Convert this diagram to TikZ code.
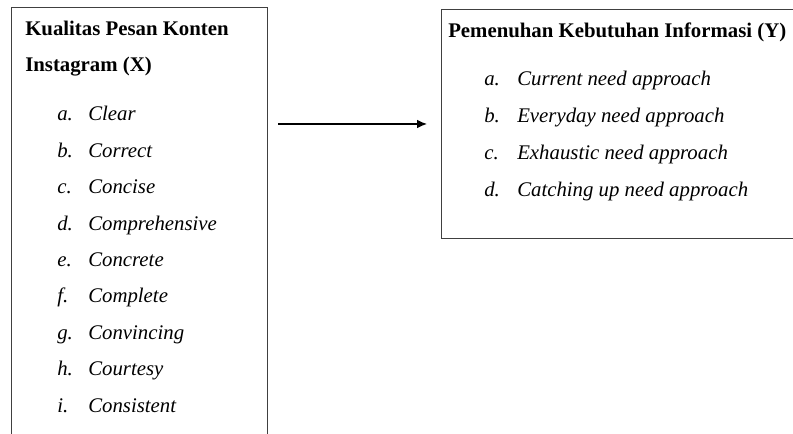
\documentclass[tikz,border=0pt]{standalone}
\usepackage{fontspec}
\setmainfont{Liberation Serif}
\usetikzlibrary{arrows.meta}
\usetikzlibrary{positioning}
\usetikzlibrary{calc}

\begin{document}
\begin{tikzpicture}[>={Latex[length=7.5pt,width=6.5pt]}, x=0.75pt, y=-0.75pt]
			\tikzset{
				box/.style = {draw=black!75, line width=0.8pt, anchor=north west, inner sep=0pt},
				head/.style = {anchor=base west, inner sep=0pt, font=\fontsize{15.6}{18}\selectfont\bfseries},
				item/.style = {anchor=base west, inner sep=0pt, font=\fontsize{15.6}{18}\selectfont\itshape}
			}
			\useasboundingbox (0,0) rectangle (793,434);
			\clip (0,0) rectangle (793,434);
			
			%coordinates
			\coordinate (ULX) at (11,7);
			\coordinate (ULY) at (441,9);
			\coordinate (ArXY) at (278,124);
			\coordinate (ArYX) at (427,124);
			
			%nodes
			\node[box, minimum width=192pt, minimum height=333pt] (X) at (ULX) {};
			\node[box, minimum width=277pt, minimum height=172pt] (Y) at (ULY) {};
			
			\node[head] (Xone) at (25,36) {Kualitas Pesan Konten};
			\node[head] (Xtwo) at (25,72) {Instagram (X)};
			\foreach \l/\t [count=\i from 0] in {a./Clear, b./Correct, c./Concise, d./Comprehensive, e./Concrete, f./Complete, g./Convincing, h./Courtesy, i./Consistent}{
				\node[item] (Xl\i) at (57,{121+36.4*\i}) {\l};
				\node[item] (Xt\i) at (88,{121+36.4*\i}) {\t};
			}
			
			\node[head] (Yone) at (448,38) {Pemenuhan Kebutuhan Informasi (Y)};
			\foreach \l/\t [count=\i from 0] in {a./Current need approach, b./Everyday need approach, c./Exhaustic need approach, d./Catching up need approach}{
				\node[item] (Yl\i) at (484,{86+36.7*\i}) {\l};
				\node[item] (Yt\i) at (517,{86+36.7*\i}) {\t};
			}
			
			\draw[->, line width=0.9pt] (ArXY) -- (ArYX);
\end{tikzpicture}
\end{document}
